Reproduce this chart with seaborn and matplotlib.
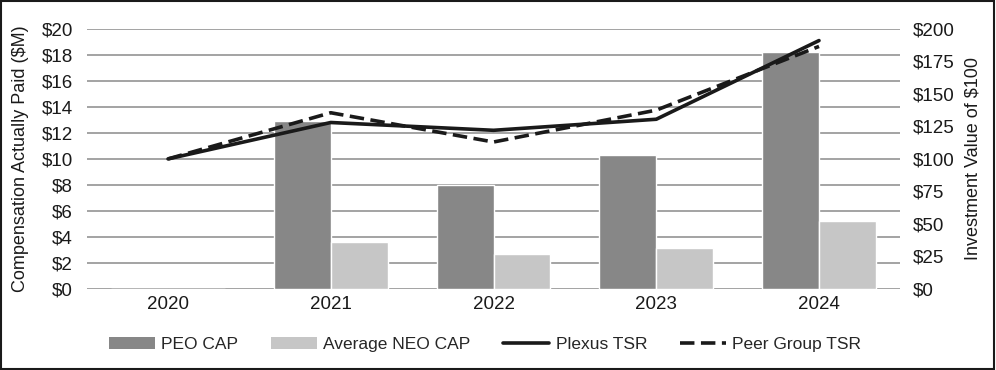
import numpy as np
import pandas as pd
import matplotlib
matplotlib.use("Agg")
import matplotlib.pyplot as plt
from matplotlib.lines import Line2D
from matplotlib.patches import Patch, Rectangle
import seaborn as sns

years = ["2020", "2021", "2022", "2023", "2024"]
peo_cap = [0.0, 12.9, 8.0, 10.3, 18.25]
neo_cap = [0.0, 3.6, 2.7, 3.15, 5.2]
plexus_tsr = [100, 128, 122, 130.5, 191]
peer_tsr = [100, 135.5, 113, 137.5, 186.5]

PEO_COLOR = "#878787"
NEO_COLOR = "#c6c6c6"
LINE_COLOR = "#1a1a1a"
DASH = (0, (4, 1.8))

sns.set_theme(style="white")
plt.rcParams["font.family"] = ["Liberation Sans", "DejaVu Sans"]

df_bars = pd.DataFrame({
    "Year": years * 2,
    "CAP": peo_cap + neo_cap,
    "Series": ["PEO CAP"] * 5 + ["Average NEO CAP"] * 5,
})

fig = plt.figure(figsize=(9.96, 3.70), dpi=100)
ax = fig.add_axes([0.087, 0.219, 0.817, 0.703])

sns.barplot(data=df_bars, x="Year", y="CAP", hue="Series",
            palette=[PEO_COLOR, NEO_COLOR], width=0.7, gap=0,
            saturation=1, ax=ax, legend=False, zorder=2)

ax.set_ylim(0, 20)
ax.set_xlim(-0.5, 4.5)
ax.set_yticks(np.arange(0, 21, 2))
ax.set_yticklabels([f"${v}" for v in range(0, 21, 2)])
ax.yaxis.grid(True, color="#8a8a8a", linewidth=1.1, zorder=0)
ax.set_axisbelow(True)
for s in ax.spines.values():
    s.set_visible(False)
ax.set_xlabel("")
ax.set_ylabel("Compensation Actually Paid ($M)", fontsize=13, color="#1a1a1a")
ax.yaxis.set_label_coords(-0.071, 0.5)
ax.tick_params(axis="y", labelsize=13.5, colors="#1a1a1a", length=0, pad=10)
ax.tick_params(axis="x", labelsize=13.5, colors="#1a1a1a", length=0, pad=5)

ax2 = ax.twinx()
x_pos = np.arange(len(years))
sns.lineplot(x=x_pos, y=plexus_tsr, ax=ax2, color=LINE_COLOR, linewidth=2.6,
             zorder=4)
sns.lineplot(x=x_pos, y=peer_tsr, ax=ax2, color=LINE_COLOR, linewidth=2.6,
             linestyle=DASH, zorder=4)
ax2.set_ylim(0, 200)
ax2.set_xlim(-0.5, 4.5)
ax2.set_yticks(np.arange(0, 201, 25))
ax2.set_yticklabels([f"${v}" for v in range(0, 201, 25)])
for s in ax2.spines.values():
    s.set_visible(False)
ax2.set_ylabel("Investment Value of $100", fontsize=13, color="#1a1a1a")
ax2.yaxis.set_label_coords(1.079, 0.5)
ax2.tick_params(axis="y", labelsize=13.5, colors="#1a1a1a", length=0, pad=9)

handles = [
    Patch(facecolor=PEO_COLOR, edgecolor="none"),
    Patch(facecolor=NEO_COLOR, edgecolor="none"),
    Line2D([], [], color=LINE_COLOR, linewidth=2.6),
    Line2D([], [], color=LINE_COLOR, linewidth=2.6, linestyle=DASH),
]
labels = ["PEO CAP", "Average NEO CAP", "Plexus TSR", "Peer Group TSR"]
fig.legend(handles, labels, loc="center", bbox_to_anchor=(0.487, 0.07),
           ncol=4, frameon=False, fontsize=12.5, handlelength=2.65,
           handleheight=0.7, handletextpad=0.35, columnspacing=1.9)

fig.add_artist(Rectangle((0.001, 0.002), 0.997, 0.995, transform=fig.transFigure,
                         fill=False, edgecolor="#1a1a1a", linewidth=1.5))

fig.savefig("out.png", dpi=100)
